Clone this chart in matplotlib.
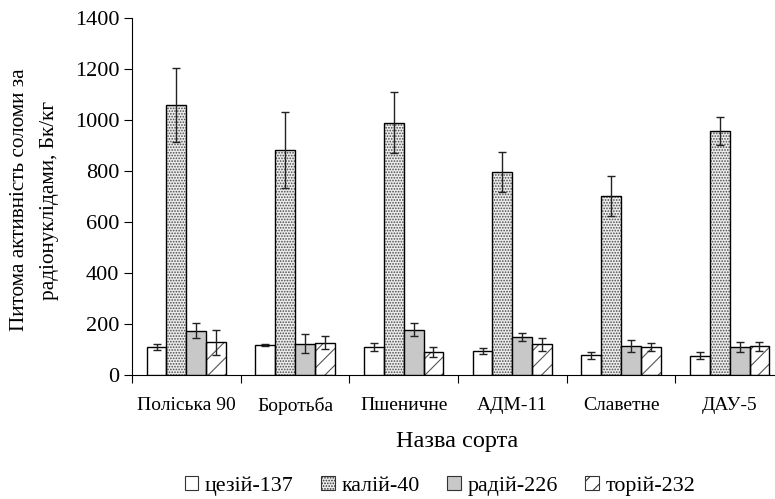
import matplotlib
matplotlib.use("Agg")
import matplotlib.pyplot as plt
import matplotlib.patches as mpatches
import numpy as np

plt.rcParams['font.family'] = ['Liberation Serif', 'DejaVu Serif']
plt.rcParams['hatch.linewidth'] = 0.8

varieties = ["Поліська 90", "Боротьба", "Пшеничне", "АДМ-11", "Славетне", "ДАУ-5"]
series = ["цезій-137", "калій-40", "радій-226", "торій-232"]
cs137 = [110, 119, 111, 93, 77, 76]
cs137_err = [10, 4, 16, 12, 14, 13]
k40 = [1057, 884, 990, 797, 701, 956]
k40_err = [145, 149, 121, 78, 78, 54]
ra226 = [174, 123, 178, 148, 114, 110]
ra226_err = [29, 36, 27, 15, 25, 18]
th232 = [128, 127, 90, 120, 109, 112]
th232_err = [48, 25, 21, 24, 15, 16]

values = [cs137, k40, ra226, th232]
errors = [cs137_err, k40_err, ra226_err, th232_err]
faces = ["white", "#ececec", "#c8c8c8", "white"]
hatches = [None, "......", None, "//"]
hatch_cols = ["black", "#4a4a4a", "black", "#555555"]

fig = plt.figure(figsize=(7.75, 4.99), dpi=100)
ax = fig.add_axes([132/775, 1-375/499, (784-132)/775, (375-18)/499])

x = np.arange(len(varieties))
w = 0.183
handles = []
for i, (v, e) in enumerate(zip(values, errors)):
    pos = x + (i - 1.5) * w
    if hatches[i]:
        ax.bar(pos, v, w, color=faces[i], edgecolor=hatch_cols[i], hatch=hatches[i], linewidth=0, zorder=2)
    ax.bar(pos, v, w, color='none' if hatches[i] else faces[i], edgecolor='black', linewidth=1.0, zorder=3)
    ax.errorbar(pos, v, yerr=e, fmt='none', ecolor='#222222', elinewidth=1.0, capsize=3, capthick=1.0, zorder=4)
    handles.append(mpatches.Patch(facecolor=faces[i], edgecolor='#333333', hatch=hatches[i], linewidth=0.8))

ax.set_xlim(-0.5, len(varieties) - 0.5)
ax.set_ylim(0, 1400)
ax.set_yticks(np.arange(0, 1401, 200))
ax.set_xticks(x)
ax.set_xticklabels(varieties, fontsize=14)
ax.set_xticks(np.arange(-0.5, len(varieties), 1), minor=True)
ax.tick_params(axis='x', which='major', length=0, pad=16)
ax.tick_params(axis='x', which='minor', length=6, width=0.8, direction='out')
ax.tick_params(axis='y', length=6, width=0.8, direction='out', labelsize=16, pad=3)
for s in ['top', 'right']:
    ax.spines[s].set_visible(False)
ax.spines['left'].set_linewidth(0.8)
ax.spines['bottom'].set_linewidth(0.8)

fig.text(20/775, 1-200/499, "Питома активність соломи за", rotation=90, ha='center', va='center', fontsize=15.3)
fig.text(50/775, 1-200/499, "радіонуклідами, Бк/кг", rotation=90, ha='center', va='center', fontsize=15.3)
fig.text(457/775, 1-442/499, "Назва сорта", ha='center', va='center', fontsize=17.5)

fig.legend(handles, series, loc='center', bbox_to_anchor=(440/775, 1-486/499), ncol=4, frameon=False,
           fontsize=15.8, handlelength=0.62, handleheight=0.62, handletextpad=0.3, columnspacing=1.25,
           borderaxespad=0)

fig.savefig("out.png", dpi=100)
